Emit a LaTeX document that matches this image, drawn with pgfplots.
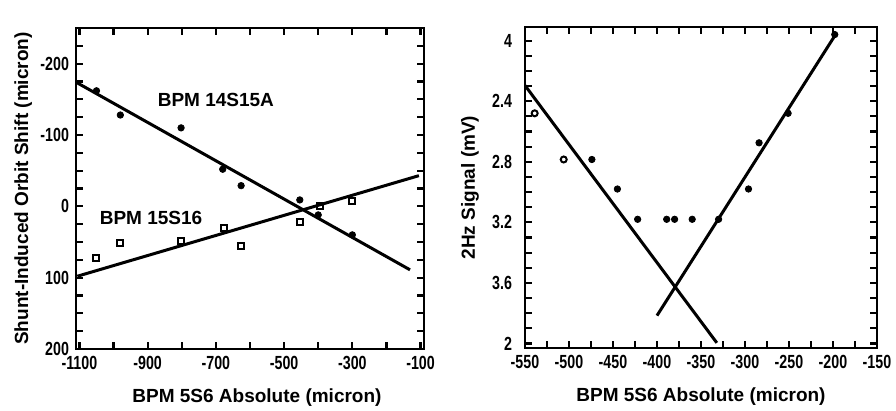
\documentclass[border=0pt]{standalone}
\usepackage{fontspec}
\setmainfont{Liberation Sans}
\newfontfamily\tickfont[FakeStretch=0.75]{Liberation Sans}
\usepackage{pgfplots}
\pgfplotsset{compat=1.18}

\pgfplotsset{
  panel/.style={
    scale only axis, height=160.5pt,
    axis line style={line width=1.4pt},
    every tick/.style={line width=1.1pt,black},
    major tick length=3.5pt, minor tick length=3.5pt,
    tick align=inside,
    tick label style={font=\tickfont\bfseries\fontsize{9.5}{10}\selectfont},
    label style={font=\bfseries\fontsize{9.5}{11}\selectfont},
    y dir=reverse,
  },
  fit/.style={line width=1.5pt, black, no marks},
}

\begin{document}
\begin{tikzpicture}
\path[use as bounding box] (0,0) rectangle (448pt,205.5pt);

% left panel: orbit shift vs BPM 5S6
\begin{axis}[panel, at={(38pt,31pt)}, anchor=south west, width=174pt,
  xmin=-1110, xmax=-90, ymin=-250, ymax=200,
  xtick={-1100,-900,-700,-500,-300,-100},
  xticklabels={-1100,-900,-700,-500,-300,-100},
  minor xtick={-1000,-800,-600,-400,-200},
  ytick={-200,-100,0,100,200},
  yticklabels={-200,-100,0,100,200},
  minor ytick={-225,-175,-150,-125,-75,-50,-25,25,50,75,125,150,175},
  xlabel={BPM 5S6 Absolute (micron)},
  ylabel={Shunt-Induced Orbit Shift (micron)},
  xlabel style={at={(axis description cs:0.52,-0.15)}, anchor=center},
  ylabel style={at={(axis description cs:-0.152,0.5)}, anchor=center},
]
\addplot[only marks, mark=*, mark size=1.6pt, black] coordinates {
  (-1050,-162) (-980,-128) (-802,-110) (-680,-52) (-626,-29)
  (-454,-9) (-400,12) (-300,40)};
\addplot[only marks, mark=square, mark size=1.5pt, black, mark options={line width=1pt}] coordinates {
  (-1052,72) (-980,51) (-802,49) (-677,30) (-626,55)
  (-454,22) (-395,0) (-300,-8)};
\addplot[fit] coordinates {(-1106,-173) (-131,89)};
\addplot[fit] coordinates {(-1106,98) (-105,-43)};
\node[font=\bfseries\fontsize{9.5}{11}\selectfont] at (axis cs:-700,-149) {BPM 14S15A};
\node[font=\bfseries\fontsize{9.5}{11}\selectfont] at (axis cs:-890,16) {BPM 15S16};
\end{axis}

% right panel: 2Hz signal vs BPM 5S6
\begin{axis}[panel, at={(262.5pt,31.5pt)}, anchor=south west, width=176pt,
  xmin=-550, xmax=-150, ymin=1.91, ymax=4.03,
  xtick={-550,-500,-450,-400,-350,-300,-250,-200,-150},
  xticklabels={-550,-500,-450,-400,-350,-300,-250,-200,-150},
  minor xtick={-525,-475,-425,-375,-325,-275,-225,-175},
  ytick={2,2.4,2.8,3.2,3.6,4},
  yticklabels={4,2.4,2.8,3.2,3.6,2},
  minor ytick={2.1,2.2,2.3,2.5,2.6,2.7,2.9,3.0,3.1,3.3,3.4,3.5,3.7,3.8,3.9},
  yticklabel style={xshift=-3pt},
  xlabel={BPM 5S6 Absolute (micron)},
  ylabel={2Hz Signal (mV)},
  xlabel style={at={(axis description cs:0.5,-0.15)}, anchor=center},
  ylabel style={at={(axis description cs:-0.156,0.5)}, anchor=center},
]
\addplot[only marks, mark=o, mark size=1.5pt, black, mark options={line width=1pt}] coordinates {
  (-539,2.48) (-506,2.785)};
\addplot[only marks, mark=*, mark size=1.6pt, black] coordinates {
  (-474,2.785) (-445,2.98) (-422,3.18) (-389,3.18) (-380,3.18) (-360,3.18)
  (-330,3.18) (-296,2.98) (-284,2.675) (-251,2.48) (-198,1.96)};
\addplot[fit] coordinates {(-550,2.296) (-332,3.996)};
\addplot[fit] coordinates {(-400,3.816) (-196,1.95)};
\end{axis}
\end{tikzpicture}
\end{document}
